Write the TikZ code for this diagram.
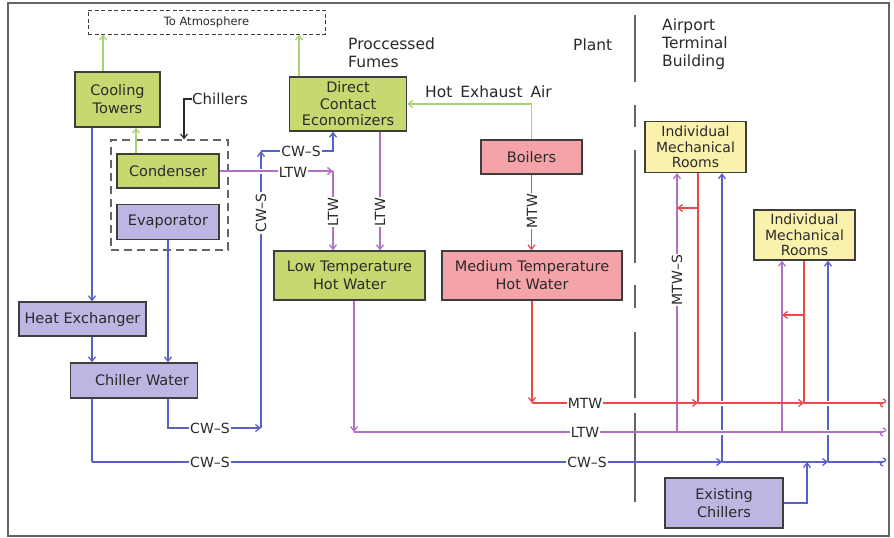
\documentclass[tikz,border=0pt]{standalone}
\usepackage{fontspec}
\setmainfont{DejaVu Sans}
\usetikzlibrary{arrows.meta}
\definecolor{gfill}{RGB}{200,216,112}
\definecolor{gline}{RGB}{172,210,112}
\definecolor{lfill}{RGB}{188,183,226}
\definecolor{bline}{RGB}{88,98,196}
\definecolor{pline}{RGB}{176,112,200}
\definecolor{pfill}{RGB}{244,164,168}
\definecolor{rline}{RGB}{236,74,74}
\definecolor{yfill}{RGB}{250,242,172}
\definecolor{edge}{RGB}{62,62,62}
\definecolor{txt}{RGB}{42,42,42}
\definecolor{frm}{RGB}{100,100,100}
\tikzset{
  box/.style={draw=edge, line width=1.4pt, text=txt, inner sep=0pt, align=center,
    font=\fontsize{14.5}{18}\selectfont},
  gbox/.style={box, fill=gfill},
  lbox/.style={box, fill=lfill},
  pbox/.style={box, fill=pfill},
  ybox/.style={box, fill=yfill, font=\fontsize{14}{15.5}\selectfont},
  hdr/.style={text=txt, inner sep=0pt, align=left, font=\fontsize{15.5}{18}\selectfont},
  lab/.style={fill=white, text=txt, inner sep=1pt, font=\fontsize{14}{14}\selectfont},
  gl/.style={draw=gline, line width=1.3pt},
  bl/.style={draw=bline, line width=1.3pt},
  pl/.style={draw=pline, line width=1.3pt},
  rl/.style={draw=rline, line width=1.3pt},
  blk/.style={draw=txt, line width=1.1pt},
}
\newcommand{\mybreak}[3]{\draw[#1] (#2,#3-4) .. controls (#2+3.5,#3-2.5) and (#2+3.5,#3-1) .. (#2,#3) .. controls (#2-3.5,#3+1) and (#2-3.5,#3+2.5) .. (#2,#3+4);}
\begin{document}
\begin{tikzpicture}[x=1pt,y=-1pt, >={Straight Barb[length=4.5pt,width=7pt]}]
\useasboundingbox (0,0) rectangle (894,538);
\fill[white] (0,0) rectangle (894,538);
\draw[frm, line width=2pt] (8,3) rectangle (889,536);

% helper coordinates
\coordinate (X92) at (92,0);
\coordinate (X103) at (103,0);
\coordinate (X136) at (136,0);
\coordinate (X184) at (184,0);
\coordinate (X299) at (299,0);
\coordinate (X380) at (380,0);
\coordinate (cA) at (168,428);
\coordinate (cB) at (261,428);
\coordinate (cC) at (261,151);
\coordinate (cD) at (333,151);
\coordinate (pA) at (333,171);
\coordinate (mA) at (532,403);
\coordinate (m1) at (698,403);
\coordinate (m2) at (804,403);
\coordinate (mE) at (883,403);
\coordinate (lA) at (354,432);
\coordinate (l1) at (677,432);
\coordinate (l2) at (782,432);
\coordinate (lE) at (883,432);
\coordinate (bA) at (92,462);
\coordinate (b1) at (722,462);
\coordinate (b3) at (807,462);
\coordinate (b2) at (828,462);
\coordinate (bE) at (883,462);
\coordinate (r1) at (698,208);
\coordinate (r1p) at (677,208);
\coordinate (r2) at (804,315);
\coordinate (r2p) at (782,315);

% plant / terminal divider
\draw[frm, line width=1.8pt] (635,15)--(635,82) (635,105)--(635,127) (635,150)--(635,263)
  (635,285)--(635,308) (635,332)--(635,398) (635,413)--(635,502);

% boxes
\node[draw=edge, dash pattern=on 4pt off 2.5pt, line width=1pt, minimum width=237pt, minimum height=24pt, inner sep=0pt,
  text=txt, font=\fontsize{11.5}{12}\selectfont] (atm) at (206.5,22) {To Atmosphere};
\node[gbox, minimum width=85pt, minimum height=55pt] (ct) at (117.5,99.5) {Cooling\\Towers};
\node[draw=frm, dash pattern=on 8pt off 5pt, line width=1.4pt, minimum width=117pt, minimum height=110pt] (chbox) at (169.5,195) {};
\node[gbox, minimum width=102pt, minimum height=34pt] (cond) at (168,171) {Condenser};
\node[lbox, minimum width=102pt, minimum height=35pt] (evap) at (168,222) {Evaporator};
\node[lbox, minimum width=127pt, minimum height=34pt] (hx) at (82.5,319) {Heat Exchanger};
\node[lbox, minimum width=127pt, minimum height=35pt] (cw) at (134,380.5) {\hspace*{16pt}Chiller Water};
\node[gbox, minimum width=117pt, minimum height=54pt, font=\fontsize{14.5}{16.5}\selectfont] (econ) at (348,104) {Direct\\Contact\\Economizers};
\node[pbox, minimum width=101pt, minimum height=34pt] (boil) at (531.5,157) {Boilers};
\node[gbox, minimum width=151pt, minimum height=49pt] (lthw) at (349.5,275.5) {Low Temperature\\Hot Water};
\node[pbox, minimum width=180pt, minimum height=49pt] (mthw) at (532,275.5) {Medium Temperature\\Hot Water};
\node[ybox, minimum width=101pt, minimum height=51pt] (imr1) at (695.5,147) {Individual\\Mechanical\\Rooms};
\node[ybox, minimum width=101pt, minimum height=50pt] (imr2) at (804.5,235) {Individual\\Mechanical\\Rooms};
\node[lbox, minimum width=118pt, minimum height=50pt] (exch) at (724,503) {Existing\\Chillers};

% headings
\node[hdr, anchor=north west] (fumes) at (348,38) {Proccessed\\Fumes};
\node[hdr, anchor=base west] (plant) at (573,50) {Plant};
\node[hdr, anchor=north west] (apt) at (662,19) {Airport\\Terminal\\Building};
\node[hdr, anchor=base west] (hea) at (425,97) {Hot\hspace{3pt} Exhaust\hspace{3pt} Air};
\node[hdr, anchor=west, font=\fontsize{15}{18}\selectfont] (chl) at (192,99) {Chillers};

% green
\draw[gl,->] (ct.north -| X103) -- (atm.south -| X103);
\draw[gl,->] (econ.north -| X299) -- (atm.south -| X299);
\draw[gl,->] (cond.north -| X136) -- (ct.south -| X136);
\draw[gl,->] (boil.north) |- (econ.east);

% chillers leader
\draw[blk,->] (chl.west) -| (chbox.north -| X184);

% blue
\draw[bl,->] (ct.south -| X92) -- (hx.north -| X92);
\draw[bl,->] (hx.south -| X92) -- (cw.north -| X92);
\draw[bl,->] (evap.south) -- (cw.north -| evap.south);
\draw[bl,->] (cw.south -| cA) |- (cB);
\draw[bl,->] (cB) -- (cC);
\draw[bl,->] (cC) -| (econ.south -| cD);
\draw[bl] (cw.south -| bA) -- (bA);
\draw[bl,->] (bA) -- (b1);
\draw[bl,->] (b1) -- (b2);
\draw[bl] (b2) -- (bE);
\mybreak{bl}{883}{462}
\draw[bl,->] (b1) -- (imr1.south -| b1);
\draw[bl,->] (b2) -- (imr2.south -| b2);
\draw[bl,->] (exch.east) -| (b3);

% crossing gaps
\draw[white, line width=5pt] (660,403) -- (860,403) (660,432) -- (860,432) (250,171) -- (272,171);

% purple
\draw[pl,->] (cond.east) -- (pA);
\draw[pl,->] (pA) -- (lthw.north -| pA);
\draw[pl,->] (econ.south -| X380) -- (lthw.north -| X380);
\draw[pl,->] (lthw.south -| lA) -- (lA);
\draw[pl] (lA) -- (lE);
\mybreak{pl}{883}{432}
\draw[pl,->] (l1) -- (imr1.south -| l1);
\draw[pl,->] (l2) -- (imr2.south -| l2);

% red
\draw[rl,->] (boil.south) -- (mthw.north -| boil.south);
\draw[rl,->] (mthw.south -| mA) -- (mA);
\draw[rl,->] (mA) -- (m1);
\draw[rl,->] (m1) -- (m2);
\draw[rl] (m2) -- (mE);
\mybreak{rl}{883}{403}
\draw[rl] (imr1.south -| m1) -- (m1);
\draw[rl] (imr2.south -| m2) -- (m2);
\draw[rl,->] (r1) -- (r1p);
\draw[rl,->] (r2) -- (r2p);

% line labels
\node[lab] (t1) at (210,428) {CW–S};
\node[lab] (t2) at (210,462) {CW–S};
\node[lab] (t3) at (587,462) {CW–S};
\node[lab] (t4) at (585,432) {LTW};
\node[lab] (t5) at (585,403) {MTW};
\node[lab] (t6) at (301,151) {CW–S};
\node[lab] (t7) at (293,172) {LTW};
\node[lab, rotate=90] (t8) at (261,213) {CW–S};
\node[lab, rotate=90] (t9) at (333,212) {LTW};
\node[lab, rotate=90] (t10) at (380,212) {LTW};
\node[lab, rotate=90] (t11) at (532,211) {MTW};
\node[lab, rotate=90] (t12) at (677,280) {MTW–S};
\end{tikzpicture}
\end{document}
